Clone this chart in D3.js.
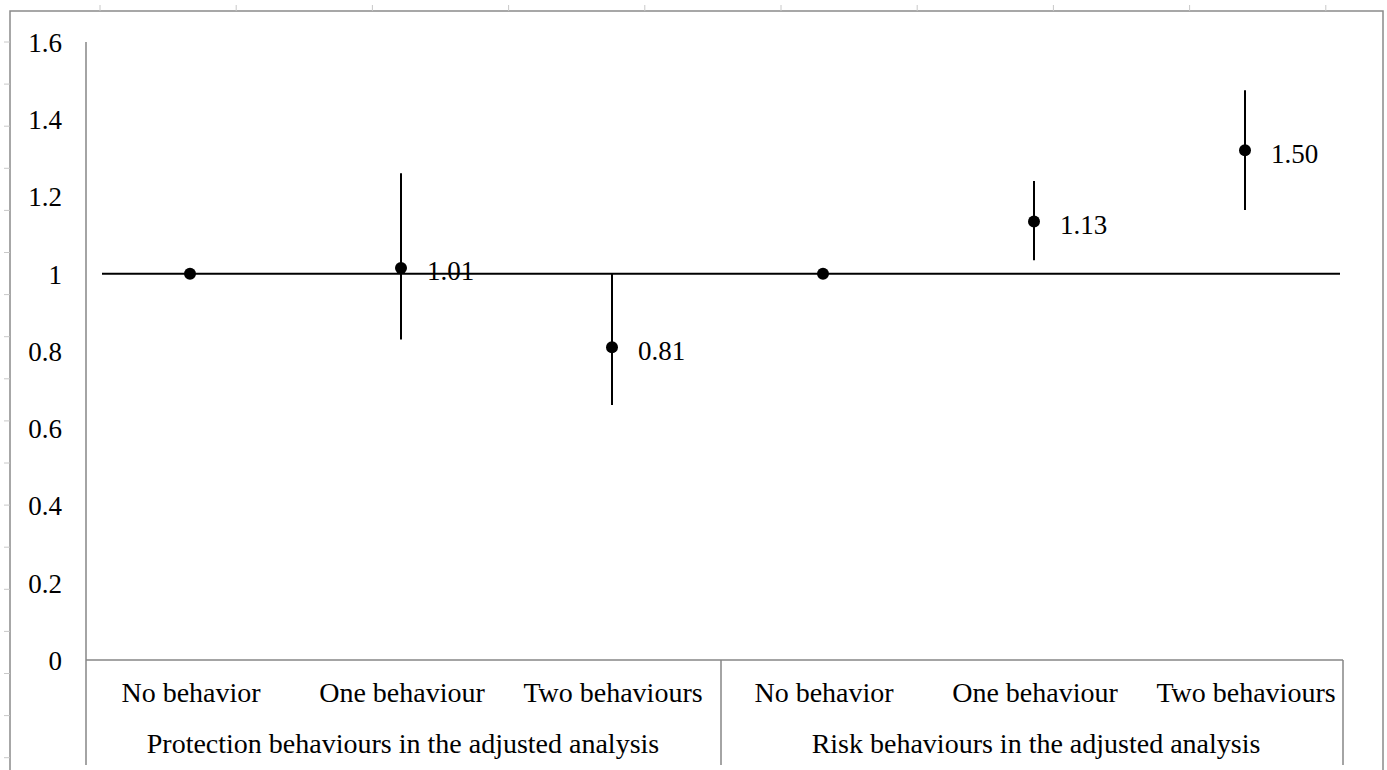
<!DOCTYPE html>
<html>
<head>
<meta charset="utf-8">
<script src="https://cdn.jsdelivr.net/npm/d3@7"></script>
<style>
  html, body { margin: 0; padding: 0; background: #fff; }
  svg { display: block; }
  .serif { font-family: "Liberation Serif", "Times New Roman", serif; }
</style>
</head>
<body>
<svg id="chart" width="1387" height="770"></svg>
<script>
// ---- data ----
const categories = ["No behavior", "One behaviour", "Two behaviours", "No behavior", "One behaviour", "Two behaviours"];
const groups = ["Protection behaviours in the adjusted analysis", "Risk behaviours in the adjusted analysis"];
const estimates = [1.00, 1.015, 0.81, 1.00, 1.135, 1.32];
const lowerCI = [null, 0.83, 0.66, null, 1.035, 1.165];
const upperCI = [null, 1.26, 1.00, null, 1.24, 1.475];
const pointLabels = ["", "1.01", "0.81", "", "1.13", "1.50"];
const yTicks = [0, 0.2, 0.4, 0.6, 0.8, 1, 1.2, 1.4, 1.6];
const referenceValue = 1;

// ---- layout ----
const svg = d3.select("#chart");
const axisX = 86, axisRight = 1343, axisBottom = 660, axisTop = 42, boxBottom = 765;
const numSize = 27, catSize = 28;

// spreadsheet frame
const frame = svg.append("g");
frame.append("rect").attr("x", 10).attr("y", 11).attr("width", 1373).attr("height", 780)
  .attr("fill", "none").attr("stroke", "#8a8a8a").attr("stroke-width", 1.5);
d3.range(10).forEach(k => {
  const xx = 100 + k * 136.2;
  frame.append("line").attr("x1", xx).attr("x2", xx).attr("y1", 5).attr("y2", 11)
    .attr("stroke", "#c8c8c8").attr("stroke-width", 1);
});
d3.range(18).forEach(k => {
  const yy = 42 + k * 42.1;
  frame.append("line").attr("x1", 4).attr("x2", 10).attr("y1", yy).attr("y2", yy)
    .attr("stroke", "#c8c8c8").attr("stroke-width", 1);
});

// scales
const y = d3.scaleLinear().domain([0, 1.6]).range([axisBottom, axisTop]);
const x = d3.scaleBand().domain(d3.range(categories.length)).range([84.5, 1350.5]).padding(0);
const cx = i => x(i) + x.bandwidth() / 2;

// y axis
const gy = svg.append("g").attr("transform", `translate(${axisX},0)`)
  .call(d3.axisLeft(y).tickValues(yTicks).tickSize(0).tickPadding(24)
    .tickFormat(d => String(+d.toFixed(1))));
gy.attr("font-family", null).attr("font-size", null);
gy.select(".domain").remove();
gy.selectAll("text").attr("class", "serif").style("font-size", numSize + "px")
  .attr("fill", "#000").attr("dy", "0.35em");
svg.append("line").attr("x1", axisX).attr("x2", axisX).attr("y1", axisTop).attr("y2", boxBottom)
  .attr("stroke", "#868686").attr("stroke-width", 1.5);

// x axis line and category box
svg.append("line").attr("x1", axisX).attr("x2", axisRight).attr("y1", axisBottom).attr("y2", axisBottom)
  .attr("stroke", "#868686").attr("stroke-width", 1.5);
const sepX = x(3) + 3.5;
[sepX, axisRight].forEach(xx => {
  svg.append("line").attr("x1", xx).attr("x2", xx).attr("y1", axisBottom).attr("y2", boxBottom)
    .attr("stroke", "#868686").attr("stroke-width", 1.5);
});

// category labels
svg.append("g").selectAll("text").data(categories).join("text")
  .attr("class", "serif")
  .attr("x", (d, i) => cx(i) + 1).attr("y", 702)
  .attr("text-anchor", "middle").style("font-size", catSize + "px").text(d => d);

// group labels (centered under middle category of each group)
svg.append("g").selectAll("text").data(groups).join("text")
  .attr("class", "serif")
  .attr("x", (d, gi) => cx(gi * 3 + 1) + 2).attr("y", 753)
  .attr("text-anchor", "middle").style("font-size", catSize + "px").text(d => d);

// reference line
svg.append("line").attr("x1", 102).attr("x2", 1340)
  .attr("y1", y(referenceValue)).attr("y2", y(referenceValue))
  .attr("stroke", "#000").attr("stroke-width", 2);

// error bars
const idx = d3.range(categories.length);
svg.append("g").selectAll("line").data(idx.filter(i => lowerCI[i] != null)).join("line")
  .attr("x1", cx).attr("x2", cx)
  .attr("y1", i => y(upperCI[i])).attr("y2", i => y(lowerCI[i]))
  .attr("stroke", "#000").attr("stroke-width", 2);

// points
svg.append("g").selectAll("circle").data(idx).join("circle")
  .attr("cx", cx).attr("cy", i => y(estimates[i])).attr("r", 6).attr("fill", "#000");

// point labels
svg.append("g").selectAll("text").data(idx.filter(i => pointLabels[i])).join("text")
  .attr("class", "serif")
  .attr("x", i => cx(i) + 26).attr("y", i => y(estimates[i]) + 3)
  .attr("dy", "0.35em").style("font-size", numSize + "px").text(i => pointLabels[i]);
</script>
</body>
</html>
